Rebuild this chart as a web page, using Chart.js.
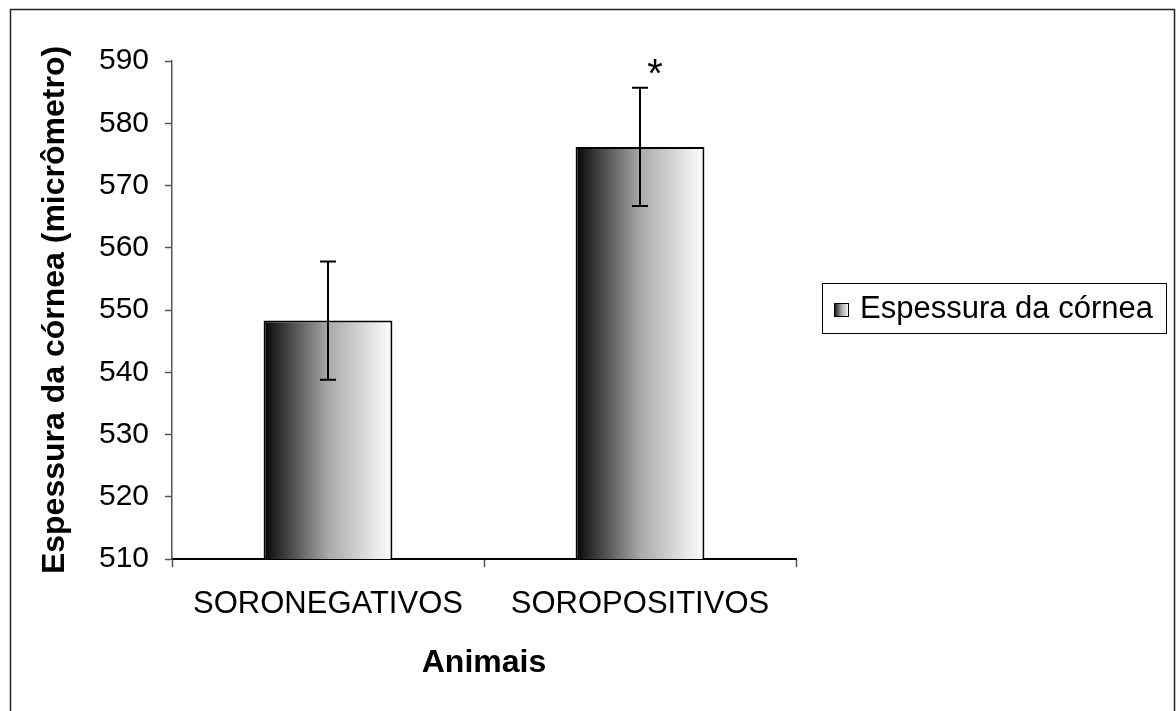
<!DOCTYPE html>
<html>
<head>
<meta charset="utf-8">
<script src="https://cdn.jsdelivr.net/npm/chart.js@4"></script>
<style>
  body { margin: 0; background: #fff; }
  canvas { display: block; }
</style>
</head>
<body>
<canvas id="grafico" width="1176" height="711"></canvas>
<script>
// dados
const categorias = ['SORONEGATIVOS', 'SOROPOSITIVOS'];
const medias = [548.3, 576.2];
const erros = [9.5, 9.5];
const marcas = ['', '*'];
const ticksY = [510, 520, 530, 540, 550, 560, 570, 580, 590];
const nomeSerie = 'Espessura da córnea';

const fonte = '"Liberation Sans", Arial, sans-serif';
const larguraBarra = 0.413;

function gradienteBarra(ctx, x0, x1) {
    const g = ctx.createLinearGradient(x0, 0, x1, 0);
    g.addColorStop(0, '#000000');
    g.addColorStop(0.08, '#202020');
    g.addColorStop(0.5, '#a8a8a8');
    g.addColorStop(1, '#ffffff');
    return g;
}

// cada barra com o seu próprio degradê
function corBarra(context) {
    const chart = context.chart;
    const xs = chart.scales.x;
    if (!xs || !chart.chartArea) return '#888';
    const w = (xs.width / categorias.length) * larguraBarra;
    const cx = xs.getPixelForValue(context.dataIndex);
    return gradienteBarra(chart.ctx, cx - w / 2, cx + w / 2);
}

const pluginExtras = {
    id: 'extras',
    afterDatasetsDraw(chart) {
        const ctx = chart.ctx;
        const y = chart.scales.y;
        const meta = chart.getDatasetMeta(0);
        ctx.save();
        ctx.strokeStyle = '#000';
        ctx.lineWidth = 2;
        meta.data.forEach((el, i) => {
            const topo = y.getPixelForValue(medias[i] + erros[i]);
            const base = y.getPixelForValue(medias[i] - erros[i]);
            ctx.beginPath();
            ctx.moveTo(el.x, topo);
            ctx.lineTo(el.x, base);
            ctx.moveTo(el.x - 8, topo);
            ctx.lineTo(el.x + 8, topo);
            ctx.moveTo(el.x - 8, base);
            ctx.lineTo(el.x + 8, base);
            ctx.stroke();
            if (marcas[i]) {
                ctx.fillStyle = '#000';
                ctx.font = '40px ' + fonte;
                ctx.textAlign = 'center';
                ctx.textBaseline = 'middle';
                ctx.fillText(marcas[i], el.x + 15, topo - 12);
            }
        });
        ctx.restore();
    },
    afterDraw(chart) {
        const ctx = chart.ctx;
        ctx.save();
        // moldura externa
        ctx.strokeStyle = '#222';
        ctx.lineWidth = 1.5;
        ctx.strokeRect(10.5, 9.5, 1164, 720);
        // legenda
        ctx.lineWidth = 1;
        ctx.strokeStyle = '#000';
        ctx.strokeRect(822.5, 283.5, 344, 50);
        const sx = 834, sy = 303;
        ctx.fillStyle = gradienteBarra(ctx, sx, sx + 15);
        ctx.fillRect(sx, sy, 15, 14);
        ctx.strokeRect(sx + 0.5, sy + 0.5, 14, 13);
        ctx.fillStyle = '#000';
        ctx.font = '31px ' + fonte;
        ctx.textAlign = 'left';
        ctx.textBaseline = 'middle';
        ctx.fillText(chart.data.datasets[0].label, 860, 309);
        ctx.restore();
    }
};

new Chart(document.getElementById('grafico'), {
    type: 'bar',
    data: {
        labels: categorias,
        datasets: [{
            label: nomeSerie,
            data: medias,
            backgroundColor: corBarra,
            borderColor: '#000',
            borderWidth: 2,
            borderSkipped: 'bottom',
            barPercentage: larguraBarra,
            categoryPercentage: 1
        }]
    },
    options: {
        responsive: false,
        animation: false,
        devicePixelRatio: 1,
        layout: { padding: { left: 0, top: 61, right: 380, bottom: 0 } },
        plugins: {
            legend: { display: false },
            tooltip: { enabled: false }
        },
        scales: {
            x: {
                offset: true,
                afterFit: s => { s.height = 152; },
                grid: { offset: true, drawOnChartArea: false, tickLength: 8, color: '#555', tickWidth: 1.5 },
                border: { color: '#000', width: 2 },
                ticks: { color: '#000', font: { family: fonte, size: 31 }, padding: 19 },
                title: {
                    display: true,
                    text: 'Animais',
                    color: '#000',
                    font: { family: fonte, size: 32, weight: 'bold' },
                    padding: { top: 0, bottom: 29 }
                }
            },
            y: {
                min: 510,
                max: 590,
                afterFit: s => { s.width = 172; },
                afterBuildTicks: s => { s.ticks = ticksY.map(v => ({ value: v })); },
                grid: { drawOnChartArea: false, tickLength: 7, color: '#555', tickWidth: 1.5 },
                border: { color: '#555', width: 1.5 },
                ticks: { color: '#000', font: { family: fonte, size: 30 }, padding: 16 },
                title: {
                    display: true,
                    text: 'Espessura da córnea (micrômetro)',
                    color: '#000',
                    font: { family: fonte, size: 32, weight: 'bold' },
                    padding: { top: 36, bottom: 0 }
                }
            }
        }
    },
    plugins: [pluginExtras]
});
</script>
</body>
</html>
